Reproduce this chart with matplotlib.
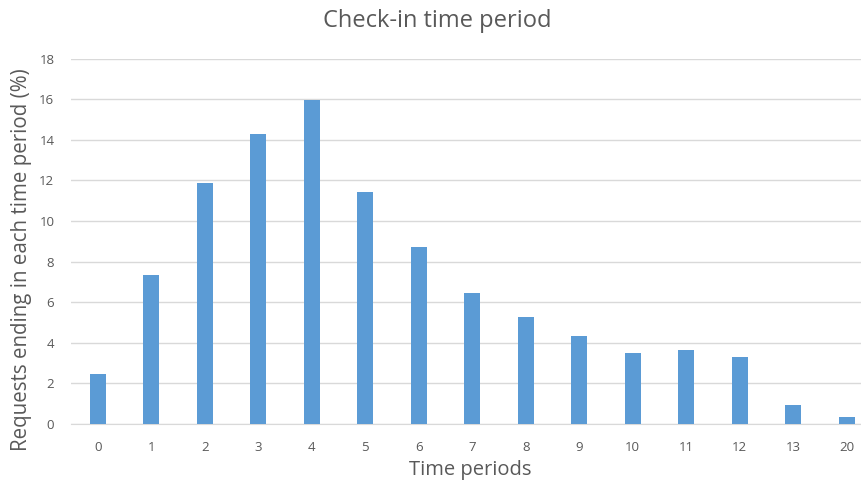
import matplotlib
matplotlib.use('Agg')
import matplotlib.pyplot as plt
import numpy as np

# bar data
periods = ['0', '1', '2', '3', '4', '5', '6', '7', '8', '9', '10', '11', '12', '13', '20']
percent = [2.46, 7.35, 11.88, 14.26, 15.97, 11.44, 8.73, 6.46, 5.28, 4.35, 3.5, 3.62, 3.3, 0.92, 0.36]

plt.rcParams['font.family'] = ['Open Sans', 'DejaVu Sans']
text_grey = '#595959'

fig = plt.figure(figsize=(8.61, 4.87), dpi=100)
ax = fig.add_axes([71 / 861, 1 - 424 / 487, (861 - 71) / 861, (424 - 58.5) / 487])

x = np.arange(len(periods))
ax.bar(x, percent, width=0.3, color='#5B9BD5', zorder=3)

ax.set_xlim(-0.5, 14.27)
ax.set_ylim(0, 18)
ax.set_yticks(range(0, 19, 2))
ax.set_xticks(x)
ax.set_xticklabels(periods)
ax.grid(axis='y', color='#D9D9D9', linewidth=1, zorder=0)
for side in ['top', 'right', 'left']:
    ax.spines[side].set_visible(False)
ax.spines['bottom'].set_color('#D9D9D9')
ax.tick_params(axis='both', length=0, labelsize=9.5, labelcolor=text_grey)
ax.tick_params(axis='x', pad=12)
ax.tick_params(axis='y', pad=12)

fig.text(437 / 861, 1 - 21 / 487, 'Check-in time period', ha='center', va='center',
         fontsize=17, color=text_grey)
ax.set_xlabel('Time periods', fontsize=14.5, color=text_grey, va='center', ha='center')
ax.set_ylabel('Requests ending in each time period (%)', fontsize=14.8, color=text_grey,
              va='center', ha='center')
ax.xaxis.set_label_coords(0.505, -0.126)
ax.yaxis.set_label_coords(-0.063, 0.45)

fig.savefig('out.png', dpi=100)
